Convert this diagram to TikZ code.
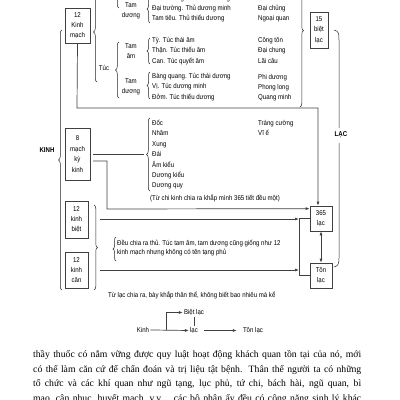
\documentclass[tikz,border=0pt]{standalone}
\usepackage{fontspec}
\setmainfont{Liberation Serif}
\newfontfamily\nar[FakeStretch=0.87]{Liberation Sans}
\usetikzlibrary{arrows.meta,decorations.pathreplacing}
\newcommand{\mystack}[1]{\begin{tabular}[t]{@{}l@{}}#1\end{tabular}}
\newcommand{\mycstack}[1]{\begin{tabular}[t]{@{}c@{}}#1\end{tabular}}
\begin{document}
\begin{tikzpicture}[x=1pt,y=-1pt,
  dfont/.style={font=\nar\fontsize{7}{10.4}\selectfont},
  box/.style={draw=black!75, line width=0.7pt, align=center, inner sep=0pt, dfont},
  lbl/.style={anchor=base west, inner sep=0pt, dfont},
  ctr/.style={anchor=base, inner sep=0pt, dfont},
  bold/.style={inner sep=0pt, font=\nar\bfseries\fontsize{7}{8}\selectfont},
  conn/.style={draw=black!75, line width=0.7pt},
  arr/.style={conn, -{Latex[length=4pt,width=3pt]}},
  darr/.style={conn, {Latex[length=4pt,width=3pt]}-{Latex[length=4pt,width=3pt]}},
  br/.style={draw=black!85, line width=0.5pt, decorate, decoration={brace, amplitude=#1}},
  br/.default=3.5pt,
  ]
\useasboundingbox (0,0) rectangle (400,400);

% boxes
\node[box, minimum width=25pt, minimum height=35pt] (km12) at (77.5,25.5) {12\\Kinh\\mạch};
\node[box, minimum width=25pt, minimum height=52pt] (mk8) at (77.5,154) {8\\mạch\\kỳ\\kinh};
\node[box, minimum width=23pt, minimum height=37pt] (kb12) at (76.5,219.5) {12\\kinh\\biệt};
\node[box, minimum width=23pt, minimum height=36pt] (kc12) at (76.5,270) {12\\kinh\\cân};
\node[box, minimum width=18pt, minimum height=36pt] (bl15) at (319,30) {15\\biệt\\lạc};
\node[box, minimum width=22pt, minimum height=25pt] (l365) at (321,218.5) {365\\lạc};
\node[box, minimum width=22pt, minimum height=25pt] (tl) at (321,275.5) {Tôn\\lạc};

% big labels
\node[bold] (kinh) at (47,150) {KINH};
\node[bold] (lac) at (341,135) {LẠC};

% group labels
\node[ctr] (tdthu) at (131,7.5) {\mycstack{Tam\\dương}};
\node[ctr] (tuc) at (104,70.5) {Túc};
\node[ctr] (tamtuc) at (131,48.5) {\mycstack{Tam\\âm}};
\node[ctr] (tdtuc) at (131,83.5) {\mycstack{Tam\\dương}};

% lists
\node[lbl] (g0) at (152,0) {\mystack{Tiểu trường. Thủ thái dương\\Đại trường. Thủ dương minh\\Tam tiêu. Thủ thiếu dương}};
\node[lbl] (r0) at (258,0) {\mystack{Chi chính\\Đại chủng\\Ngoại quan}};
\node[lbl] (g1) at (152,42.5) {\mystack{Tỳ. Túc thái âm\\Thận. Túc thiếu âm\\Can. Túc quyết âm}};
\node[lbl] (r1) at (258,42.5) {\mystack{Công tôn\\Đại chung\\Lãi câu}};
\node[lbl] (g2) at (152,78.5) {\mystack{Bàng quang. Túc thái dương\\Vị. Túc dương minh\\Đởm. Túc thiếu dương}};
\node[lbl] (r2) at (258,79) {\mystack{Phi dương\\Phong long\\Quang minh}};
\node[lbl] (g3) at (152,125.5) {\mystack{Đốc\\Nhâm\\Xung\\Đái\\Âm kiểu\\Dương kiểu\\Dương quy}};
\node[lbl] (r3) at (258,125.5) {\mystack{Tráng cường\\Vĩ ế}};
\node[lbl] (note1) at (150,200.5) {(Từ chi kinh chia ra khắp mình 365 tiết đều một)};
\node[lbl] (note2) at (117,245.5) {\renewcommand{\arraystretch}{0.87}\mystack{Đều chia ra thủ. Túc tam âm, tam dương cũng giống như 12\\kinh mạch nhưng không có tên tạng phủ}};
\node[lbl] (note3) at (108,297.5) {Từ lạc chia ra, bày khắp thân thể, không biết bao nhiêu mà kể};

% braces
\draw[br] (97,82) -- (97,-18);
\draw[br] (119,8) -- (119,-50);
\draw[br] (119,98) -- (119,42);
\draw[br=3pt] (150,23) -- (150,-5);
\draw[br=3pt] (150,64) -- (150,38);
\draw[br=3pt] (150,99) -- (150,72);
\draw[br] (300,-46) -- (300,107);
\draw[br] (150,191) -- (150,118);
\draw[br] (94,205) -- (94,290);
\draw[br=3pt] (116,261) -- (116,237);
\draw[br] (62,290) -- (62,30);
\draw[draw=black!85, line width=0.5pt] (334,30) .. controls (339,31) and (339,34) .. (339,40) -- (339,128);
\draw[draw=black!85, line width=0.5pt] (339,143) -- (339,258) .. controls (339,264) and (338,266) .. (334,267);

% connectors
\coordinate (m8a) at (93,154);
\coordinate (dbr) at (144,154);
\coordinate (m8b) at (93,161);
\coordinate (kbr) at (100,219);
\coordinate (kcr) at (100,270);
\draw[arr] (km12.south) -- (77,108) -| ([xshift=-3pt]l365.north);
\draw[conn] (m8a) -- (dbr);
\draw[arr] (m8b) -| (107,209) -- ([yshift=-3pt]l365.north west);
\draw[conn] (l365.west) -- ++(-10,0) |- (tl.west);
\draw[arr] (kbr) -- (299,219);
\draw[arr] (kcr) -- (299,270);
\draw[darr] (l365.south) -- (tl.north);

% small diagram
\node[ctr, inner sep=1pt] (bk) at (143,332.5) {Kinh};
\node[ctr, inner sep=1pt] (bl) at (194,332.5) {lạc};
\node[ctr, inner sep=1pt] (bt) at (253,332.5) {Tôn lạc};
\node[ctr, inner sep=1pt] (bb) at (194,314.5) {Biệt lạc};
\coordinate (bsplit) at (166,330);
\draw[arr] (bk.east) -- (bl.west);
\draw[arr, shorten <=5pt, shorten >=5pt] (bl.east) -- (bt.west);
\draw[arr] (bsplit) |- (bb.west);
\draw[conn] (bb.south) -- (bl.north);

% paragraph
\node[anchor=base west, inner sep=0pt] (para) at (33,357.5) {\parbox[t]{328pt}{\fontsize{9.7}{14.5}\selectfont\parfillskip=0pt thầy thuốc có nắm vững được quy luật hoạt động khách quan tồn tại của nó, mới\linebreak có thể làm căn cứ để chẩn đoán và trị liệu tật bệnh. Thân thể người ta có những\linebreak tổ chức và các khí quan như ngũ tạng, lục phủ, tứ chi, bách hài, ngũ quan, bì\linebreak mao, cân nhục, huyết mạch, v.v... các bộ phận ấy đều có công năng sinh lý khác}};
\end{tikzpicture}
\end{document}
